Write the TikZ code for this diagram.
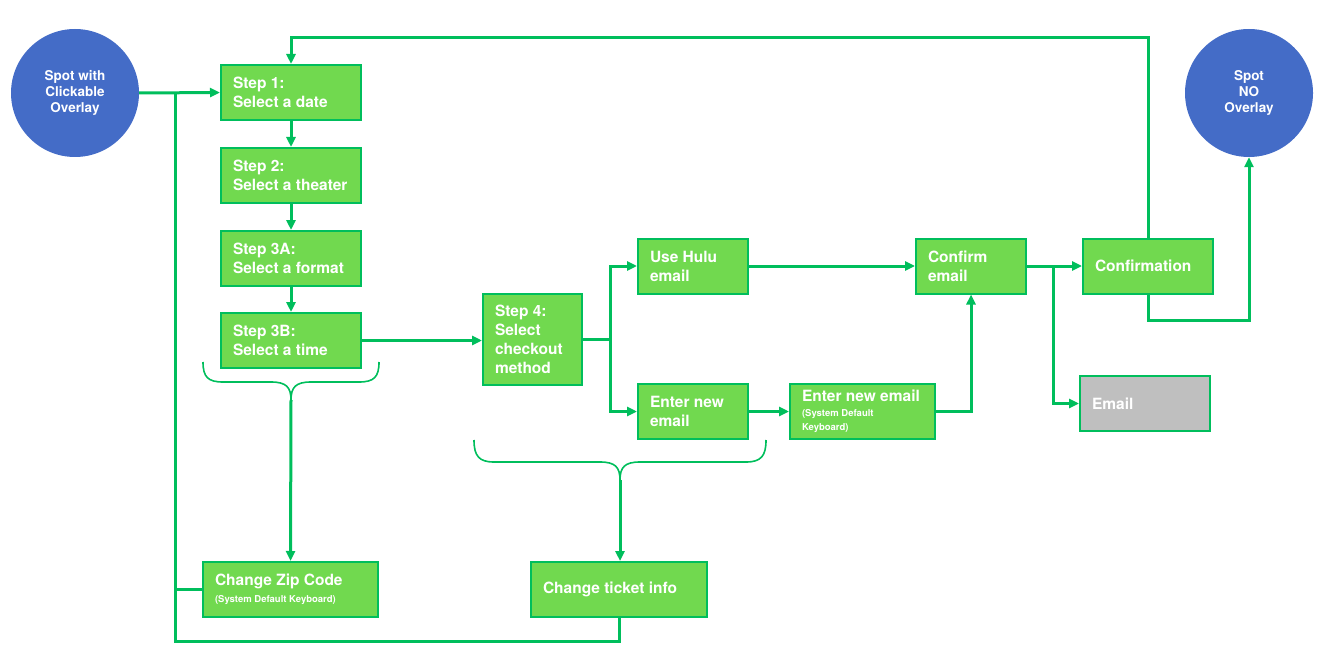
\documentclass[tikz,border=0pt]{standalone}
\usepackage{fontspec}
\setmainfont{TeX Gyre Heros}
\usepackage{tikz}
\usetikzlibrary{arrows.meta}
\definecolor{boxgreen}{RGB}{113,217,79}
\definecolor{linegreen}{RGB}{0,190,92}
\definecolor{spotblue}{RGB}{68,108,199}
\definecolor{mailgrey}{RGB}{191,191,191}

\begin{document}
\begin{tikzpicture}[x=1pt, y=-1pt,
		stepbox/.style={rectangle, draw=linegreen, fill=boxgreen, line width=2pt, text=white,
			font=\bfseries\fontsize{15.5}{19}\selectfont, align=flush left, inner xsep=12pt, inner ysep=0pt,
			minimum height=55pt},
		spot/.style={circle, fill=spotblue, text=white, minimum size=128pt, inner sep=0pt,
			font=\bfseries\fontsize{13.5}{16}\selectfont, align=center},
		wire/.style={draw=linegreen, line width=3pt},
		link/.style={wire, -{Triangle[length=10pt,width=9pt]}},
		brace/.style={draw=linegreen, line width=1.6pt}]
				\useasboundingbox (0,0) rectangle (1327,671);
				
				\node [spot] (spotL) at (75, 93) {Spot with\\Clickable\\Overlay};
				\node [spot] (spotR) at (1249, 93) {Spot\\NO\\Overlay};
				
				\node [stepbox, text width=116pt] (step1) at (291, 92.5) {Step 1:\\Select a date};
				\node [stepbox, text width=116pt] (step2) at (291, 175.5) {Step 2:\\Select a theater};
				\node [stepbox, text width=116pt] (step3a) at (291, 258.5) {Step 3A:\\Select a format};
				\node [stepbox, text width=116pt] (step3b) at (291, 340.5) {Step 3B:\\Select a time};
				\node [stepbox, text width=75pt, minimum height=91pt] (step4) at (532.5, 339.5) {Step 4:\\Select\\checkout\\method};
				
				\node [stepbox, text width=86pt] (hulu) at (693, 266) {Use Hulu\\email};
				\node [stepbox, text width=86pt] (newmail) at (693, 411.5) {Enter new\\email};
				\node [stepbox, text width=121pt] (newkbd) at (862.5, 411.5) {Enter new email\\[1pt]\fontsize{9.5}{14}\selectfont (System Default\\[-5pt]Keyboard)};
				\node [stepbox, text width=86pt] (confirm) at (971, 266) {Confirm\\email};
				\node [stepbox, text width=106pt] (confirmation) at (1148, 266) {Confirmation};
				\node [stepbox, text width=106pt, fill=mailgrey] (email) at (1145, 403.5) {Email};
				
				\node [stepbox, text width=151pt] (zip) at (290.5, 589.5) {Change Zip Code\\[-2pt]\fontsize{9.5}{15}\selectfont (System Default Keyboard)};
				\node [stepbox, text width=152pt] (ticket) at (619, 589.5) {Change ticket info};
				
				\coordinate (jL) at (175, 93);
				\coordinate (loopB) at (175, 641);
				\coordinate (loopT) at (291, 38);
				\coordinate (loopR) at (1249, 320);
				\coordinate (fork4) at (610, 339.5);
				\coordinate (fork5) at (1053, 266);
				\coordinate (brace1) at (291, 400);
				\coordinate (brace2) at (620, 480);
				
				\draw[brace] (203,362) .. controls (203,377) and (208,382) .. (223,382) -- (271,382)
					.. controls (286,382) and (291,387) .. (brace1)
					.. controls (291,387) and (296,382) .. (311,382) -- (359,382)
					.. controls (374,382) and (379,377) .. (379,362);
				\draw[brace] (474,440) .. controls (474,456) and (479,462) .. (494,462) -- (600,462)
					.. controls (615,462) and (620,467) .. (brace2)
					.. controls (620,467) and (625,462) .. (640,462) -- (746,462)
					.. controls (761,462) and (766,456) .. (766,440);
				
				\draw[link] (spotL.east) -- (step1.west);
				\draw[link] (step1) -- (step2);
				\draw[link] (step2) -- (step3a);
				\draw[link] (step3a) -- (step3b);
				\draw[link] (step3b.east) -- (step3b.east -| step4.west);
				
				\draw[wire] (step4.east) -- (fork4);
				\draw[link] (fork4) |- (hulu.west);
				\draw[link] (fork4) |- (newmail.west);
				\draw[link] (newmail) -- (newkbd);
				\draw[link] (newkbd.east) -| (confirm.south);
				\draw[link] (hulu) -- (confirm);
				\draw[link] (confirm) -- (confirmation);
				\draw[link] (fork5) |- (email.west);
				
				\draw[link] (confirmation.north) |- (loopT) -- (step1.north);
				\draw[link] (confirmation.south) |- (loopR) -- (spotR.south);
				
				\draw[link] (brace1) -- (zip.north);
				\draw[link] (brace2) -- (brace2 |- ticket.north);
				\draw[wire] (ticket.south) |- (loopB) -- (jL);
				\draw[wire] (zip.west) -- (zip.west -| jL);

			\end{tikzpicture}
\end{document}
